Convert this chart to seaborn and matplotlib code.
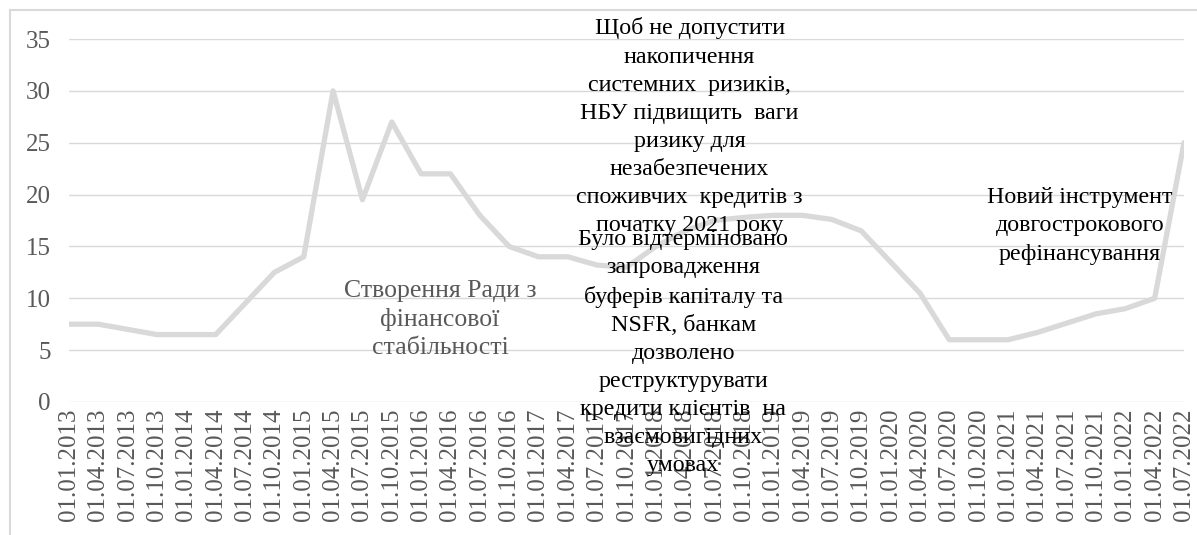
import numpy as np
import pandas as pd
import seaborn as sns
import matplotlib.pyplot as plt
from matplotlib.patches import Rectangle

# quarterly dates and values
dates = []
for year in range(2013, 2023):
    for month in ["01", "04", "07", "10"]:
        if year == 2022 and month == "10":
            continue
        dates.append(f"01.{month}.{year}")

values = [7.5, 7.5, 7.0, 6.5, 6.5, 6.5, 9.5, 12.5, 14.0, 30.0,
          19.5, 27.0, 22.0, 22.0, 18.0, 15.0, 14.0, 14.0, 13.2, 13.0,
          15.0, 16.5, 17.5, 17.8, 18.0, 18.0, 17.6, 16.5, 13.5, 10.5,
          6.0, 6.0, 6.0, 6.7, 7.6, 8.5, 9.0, 10.0, 25.0]

note_council = "Створення Ради з\nфінансової\nстабільності"
note_risk = ("Щоб не допустити\nнакопичення\nсистемних  ризиків,\n"
             "НБУ підвищить  ваги\nризику для\nнезабезпечених\n"
             "споживчих  кредитів з\nпочатку 2021 року")
note_covid = ("Було відтерміновано\nзапровадження\nбуферів капіталу та\n"
              "NSFR, банкам\nдозволено\nреструктурувати\n"
              "кредити клієнтів  на\nвзаємовигідних\nумовах")
note_refi = "Новий інструмент\nдовгострокового\nрефінансування"

df = pd.DataFrame({"pos": np.arange(len(dates)), "value": values})

sns.set_style("white")
plt.rcParams["font.family"] = ["Liberation Serif", "DejaVu Serif"]

fig = plt.figure(figsize=(11.97, 5.35), dpi=100)
ax = fig.add_axes([69 / 1197, 1 - 402 / 535, (1184 - 69) / 1197, (402 - 39) / 535])

# chart frame (cropped on right/bottom)
fig.patches.append(Rectangle((10 / 1197, -0.1), 1.2, 1 - 10 / 535 + 0.1,
                             transform=fig.transFigure, fill=False,
                             edgecolor="#d9d9d9", linewidth=1.5))

sns.lineplot(data=df, x="pos", y="value", ax=ax, color="#d9d9d9",
             linewidth=3.8, sort=False)

ax.set_xlim(0, len(dates) - 1)
ax.set_ylim(0, 35)
ax.set_yticks(range(0, 36, 5))
ax.yaxis.grid(True, color="#d9d9d9", linewidth=1)
ax.set_axisbelow(True)
for s in ax.spines.values():
    s.set_visible(False)
ax.set_xticks(df["pos"])
ax.set_xticklabels(dates, rotation=90)
ax.tick_params(axis="both", length=0, colors="#595959", labelsize=18)
ax.tick_params(axis="y", pad=13)
ax.tick_params(axis="x", pad=5)
ax.set_xlabel("")
ax.set_ylabel("")

kw = dict(ha="center", va="center", multialignment="center", clip_on=False)
ax.text(12.64, 7.96, note_council, color="#595959", fontsize=18.5,
        linespacing=1.33, **kw)
ax.text(21.15, 26.55, note_risk, color="#000000", fontsize=17.3,
        linespacing=1.44, **kw)
ax.text(20.93, 4.75, note_covid, color="#000000", fontsize=17.3,
        linespacing=1.44, **kw)
ax.text(34.46, 16.97, note_refi, color="#000000", fontsize=17.3,
        linespacing=1.44, **kw)

fig.savefig("out.png", dpi=100)
